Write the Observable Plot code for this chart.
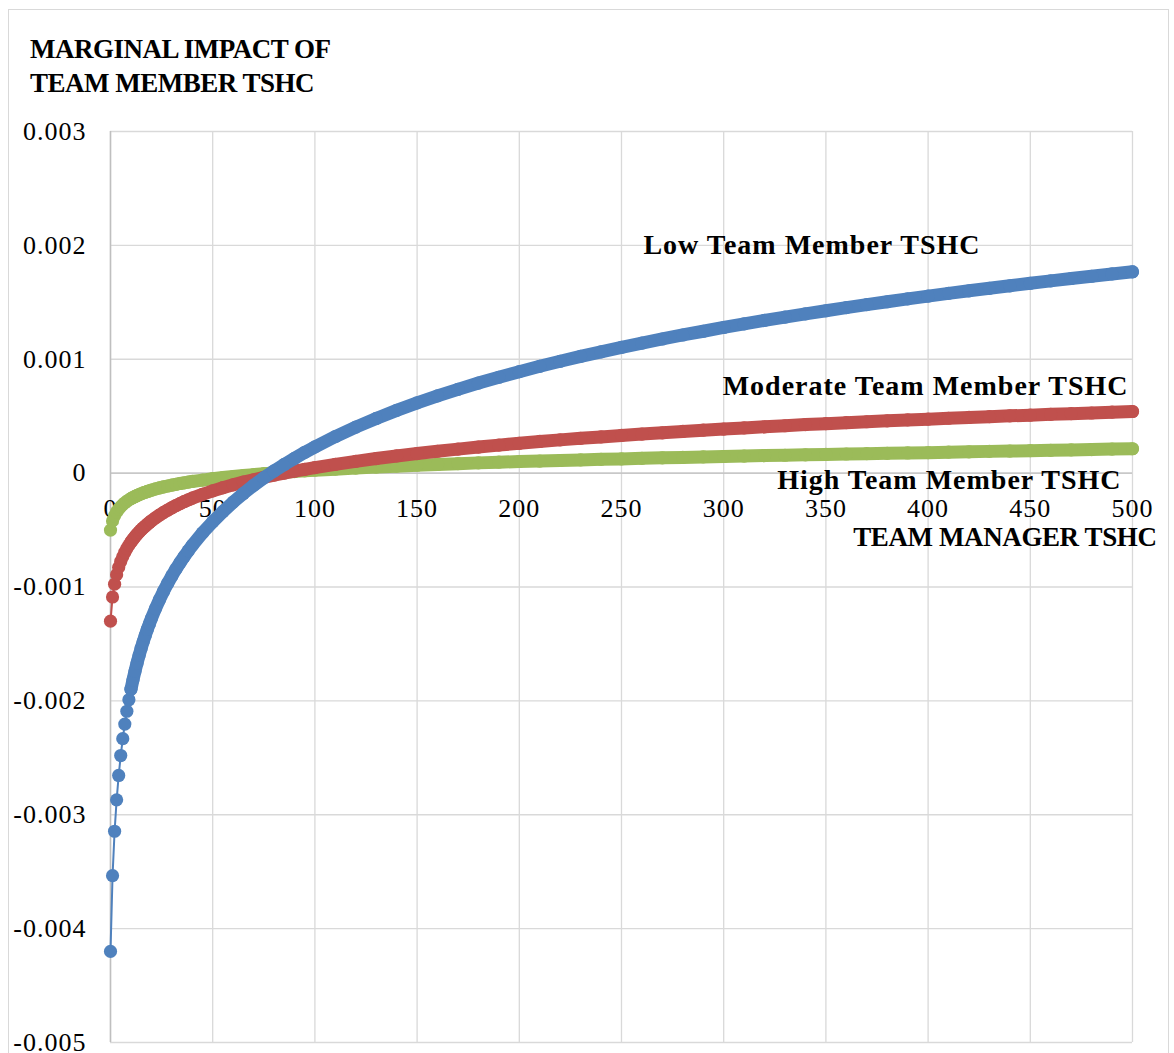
<!DOCTYPE html>
<html>
<head>
<meta charset="utf-8">
<script src="https://cdn.jsdelivr.net/npm/d3@7"></script>
<script src="https://cdn.jsdelivr.net/npm/@observablehq/plot@0.6"></script>
<style>
  html, body { margin: 0; padding: 0; background: #fff; overflow: hidden; }
  #page { position: relative; width: 1174px; height: 1053px; }
  #frame { position: absolute; left: 8px; top: 9px; width: 1161px; height: 1100px; border: 1.5px solid #d9d9d9; box-sizing: border-box; pointer-events: none; }
  #title { height: 100px; box-sizing: border-box; padding: 32px 0 0 30px; font-family: 'Liberation Serif', serif; font-weight: bold; font-size: 27px; line-height: 34.4px; letter-spacing: -0.5px; color: #000; }
  #chart svg text { letter-spacing: 1px; }
</style>
</head>
<body>
<div id="page">
  <div id="frame"></div>
  <div id="title">MARGINAL IMPACT OF<br>TEAM MEMBER TSHC</div>
  <div id="chart"></div>
</div>
<script>
// Team manager TSHC (x)
const teamManagerTSHC = [
  0,1,2,3,4,5,6,7,8,9,10,11,12,13,14,15,16,17,18,19,20,
  22,24,26,28,30,32,34,36,38,40,
  45,50,55,60,65,70,75,80,85,90,95,100,
  110,120,130,140,150,160,170,180,190,200,
  210,220,230,240,250,260,270,280,290,300,
  310,320,330,340,350,360,370,380,390,400,
  410,420,430,440,450,460,470,480,490,500
];
// Marginal impact, Low team member TSHC
const lowTSHC = [
  -0.004200,-0.003535,-0.003145,-0.002869,-0.002655,-0.002480,-0.002332,-0.002204,-0.002091,-0.001990,-0.001898,-0.001815,-0.001738,-0.001667,-0.001600,-0.001538,-0.001480,-0.001425,-0.001373,-0.001324,-0.001277,
  -0.001190,-0.001110,-0.001036,-0.000967,-0.000903,-0.000843,-0.000787,-0.000734,-0.000683,-0.000635,
  -0.000525,-0.000428,-0.000338,-0.000255,-0.000179,-0.000108,-0.000042,0.000019,0.000076,0.000130,0.000182,0.000230,
  0.000321,0.000404,0.000480,0.000551,0.000617,0.000678,0.000736,0.000791,0.000842,0.000891,
  0.000938,0.000982,0.001025,0.001065,0.001104,0.001142,0.001178,0.001213,0.001246,0.001279,
  0.001310,0.001341,0.001370,0.001399,0.001426,0.001453,0.001480,0.001505,0.001530,0.001554,
  0.001578,0.001601,0.001623,0.001645,0.001667,0.001688,0.001709,0.001729,0.001749,0.001768
];
// Marginal impact, Moderate team member TSHC
const moderateTSHC = [
  -0.001300,-0.001088,-0.000975,-0.000892,-0.000828,-0.000776,-0.000733,-0.000695,-0.000662,-0.000633,-0.000605,-0.000581,-0.000558,-0.000537,-0.000517,-0.000499,-0.000481,-0.000465,-0.000449,-0.000434,-0.000420,
  -0.000393,-0.000368,-0.000345,-0.000324,-0.000304,-0.000285,-0.000268,-0.000251,-0.000235,-0.000220,
  -0.000186,-0.000156,-0.000128,-0.000103,-0.000079,-0.000058,-0.000037,-0.000018,0.000000,0.000017,0.000033,0.000048,
  0.000077,0.000103,0.000128,0.000151,0.000172,0.000192,0.000211,0.000229,0.000246,0.000262,
  0.000278,0.000292,0.000306,0.000318,0.000331,0.000343,0.000354,0.000366,0.000377,0.000387,
  0.000397,0.000407,0.000416,0.000426,0.000434,0.000443,0.000451,0.000459,0.000467,0.000474,
  0.000482,0.000489,0.000496,0.000503,0.000509,0.000516,0.000522,0.000528,0.000535,0.000541
];
// Marginal impact, High team member TSHC
const highTSHC = [
  -0.000500,-0.000420,-0.000374,-0.000341,-0.000315,-0.000294,-0.000276,-0.000261,-0.000247,-0.000235,-0.000224,-0.000214,-0.000205,-0.000197,-0.000189,-0.000181,-0.000174,-0.000168,-0.000161,-0.000156,-0.000150,
  -0.000139,-0.000130,-0.000121,-0.000113,-0.000105,-0.000098,-0.000091,-0.000085,-0.000079,-0.000073,
  -0.000061,-0.000049,-0.000039,-0.000030,-0.000021,-0.000013,-0.000005,0.000002,0.000008,0.000014,0.000020,0.000026,
  0.000035,0.000044,0.000053,0.000061,0.000069,0.000076,0.000083,0.000090,0.000096,0.000102,
  0.000106,0.000111,0.000116,0.000121,0.000125,0.000130,0.000134,0.000138,0.000142,0.000146,
  0.000150,0.000154,0.000157,0.000161,0.000164,0.000168,0.000171,0.000174,0.000177,0.000180,
  0.000184,0.000187,0.000191,0.000194,0.000197,0.000200,0.000204,0.000207,0.000211,0.000214
];

const seriesNames = ["High Team Member TSHC", "Moderate Team Member TSHC", "Low Team Member TSHC"];
const seriesColors = ["#9bbb59", "#c0504d", "#4f81bd"];
const seriesValues = [highTSHC, moderateTSHC, lowTSHC];

const xTicks = [0, 50, 100, 150, 200, 250, 300, 350, 400, 450, 500];
const xTickLabels = ["0", "50", "100", "150", "200", "250", "300", "350", "400", "450", "500"];
const yTicks = [0.003, 0.002, 0.001, 0, -0.001, -0.002, -0.003, -0.004, -0.005];
const yTickLabels = ["0.003", "0.002", "0.001", "0", "-0.001", "-0.002", "-0.003", "-0.004", "-0.005"];
const xAxisTitle = "TEAM MANAGER TSHC";

// label placement offsets (style)
const labelOffsets = {
  "High Team Member TSHC": {dx: -11, dy: 40},
  "Moderate Team Member TSHC": {dx: -4, dy: -17},
  "Low Team Member TSHC": {dx: -152, dy: -18}
};

const marks = [
  Plot.gridX(xTicks, {stroke: "#d9d9d9", strokeOpacity: 1, strokeWidth: 1.3}),
  Plot.gridY(yTicks, {stroke: "#d9d9d9", strokeOpacity: 1, strokeWidth: 1.3}),
  Plot.ruleX([0], {stroke: "#bfbfbf", strokeWidth: 1.5}),
  Plot.ruleY([0], {stroke: "#bfbfbf", strokeWidth: 1.3}),
  Plot.axisY(yTicks, {
    tickSize: 0, tickPadding: 24, label: null,
    tickFormat: d => yTickLabels[yTicks.indexOf(d)],
    fontSize: 26, fill: "#000"
  }),
  Plot.text(xTicks, {
    x: d => d, y: d => 0, dy: 36,
    text: d => xTickLabels[xTicks.indexOf(d)],
    fontSize: 26, fill: "#000"
  })
];

seriesValues.forEach((vals, i) => {
  const rows = teamManagerTSHC.map((x, j) => ({x, y: vals[j]}));
  const color = seriesColors[i];
  marks.push(Plot.line(rows, {x: "x", y: "y", stroke: color, strokeWidth: 2}));
  marks.push(Plot.line(rows.filter(d => d.x >= 10), {x: "x", y: "y", stroke: color, strokeWidth: 13, strokeLinecap: "round", strokeLinejoin: "round"}));
  marks.push(Plot.dot(rows, {x: "x", y: "y", fill: color, r: 6.6, stroke: null}));
});

const lastIndex = teamManagerTSHC.length - 1;
seriesNames.forEach((name, i) => {
  const o = labelOffsets[name];
  marks.push(Plot.text([{x: teamManagerTSHC[lastIndex], y: seriesValues[i][lastIndex], name}], {
    x: "x", y: "y", text: "name", dx: o.dx, dy: o.dy,
    textAnchor: "end", lineAnchor: "bottom",
    fontSize: 28, fontWeight: "bold", fill: "#000"
  }));
});

marks.push(Plot.text([{x: xTicks[xTicks.length - 1], y: 0, t: xAxisTitle}], {
  x: "x", y: "y", text: "t", dx: 24, dy: 73,
  textAnchor: "end", lineAnchor: "bottom",
  fontSize: 27, fontWeight: "bold", fill: "#000"
}));

const chart = Plot.plot({
  width: 1174,
  height: 953,
  marginTop: 31,
  marginLeft: 110,
  marginRight: 42,
  marginBottom: 11,
  x: {domain: [0, 500], axis: null},
  y: {domain: [-0.005, 0.003], label: null},
  style: {fontFamily: "'Liberation Serif', serif", fontSize: "26px", color: "#000", background: "transparent"},
  marks
});
document.getElementById("chart").appendChild(chart);
d3.select(chart).selectAll("text").filter(function() { return this.textContent === xAxisTitle; })
  .style("letter-spacing", "-0.4px");
</script>
</body>
</html>
